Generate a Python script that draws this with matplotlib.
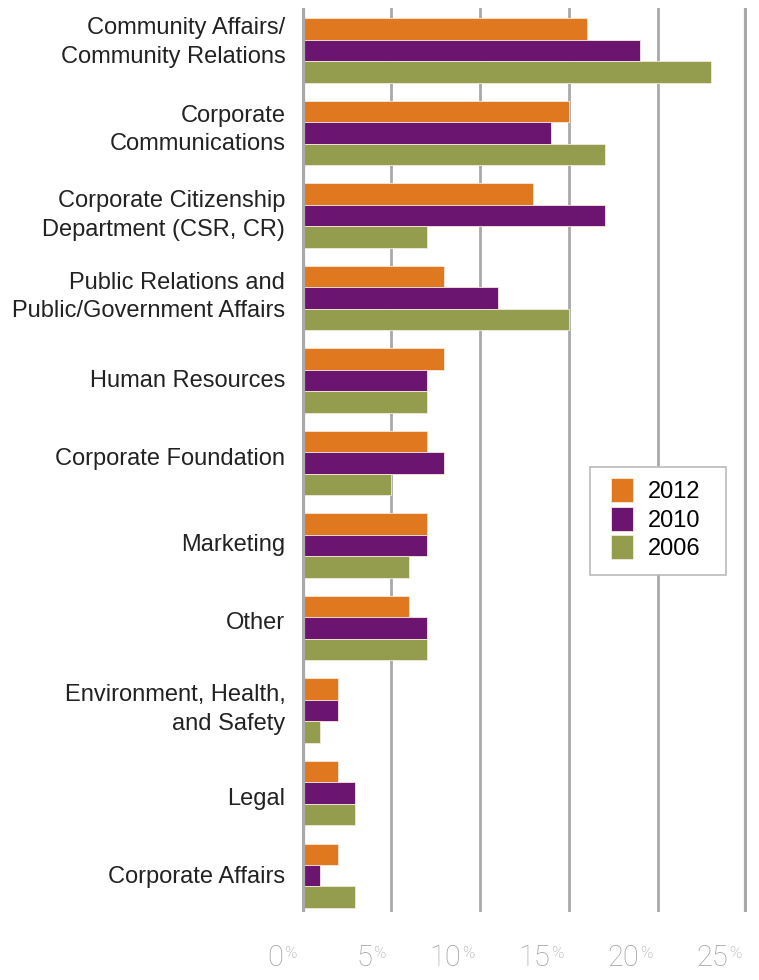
import matplotlib.pyplot as plt
from matplotlib.patches import Rectangle
from matplotlib.transforms import blended_transform_factory
import numpy as np

# Data (percent)
categories = [
    "Community Affairs/\nCommunity Relations",
    "Corporate\nCommunications",
    "Corporate Citizenship\nDepartment (CSR, CR)",
    "Public Relations and\nPublic/Government Affairs",
    "Human Resources",
    "Corporate Foundation",
    "Marketing",
    "Other",
    "Environment, Health,\nand Safety",
    "Legal",
    "Corporate Affairs",
]
vals_2012 = [16, 15, 13, 8, 8, 7, 7, 6, 2, 2, 2]
vals_2010 = [19, 14, 17, 11, 7, 8, 7, 7, 2, 3, 1]
vals_2006 = [23, 17, 7, 15, 7, 5, 6, 7, 1, 3, 3]
years = ["2012", "2010", "2006"]
colors = ["#E07820", "#6B1470", "#949C4E"]
ticks = [0, 5, 10, 15, 20, 25]

W, H = 759, 980
fig = plt.figure(figsize=(W / 100, H / 100), dpi=100)
ax = fig.add_axes([302 / W, 1 - 912 / H, 445 / W, 904 / H])

y = np.arange(len(categories))
h = 0.26
series = [vals_2012, vals_2010, vals_2006]
for k, (vals, col, lab) in enumerate(zip(series, colors, years)):
    ax.barh(y + (k - 1) * h, vals, height=h, color=col, label=lab,
            edgecolor="#f4e8dc", linewidth=0.6, zorder=3)

ax.set_xlim(0, 25)
ax.set_ylim(10.44, -0.515)

# grid lines
for t in ticks:
    lw = 4.5 if t in (0, 25) else 2
    ax.axvline(t, color="#a9a9ad", lw=lw, zorder=2 if t else 4)

for s in ax.spines.values():
    s.set_visible(False)
ax.set_xticks([])
ax.set_yticks([])

# category labels (small nudges to match the original placement)
nudge = [8, 3, 0, 1, 0, 4, 1, 5, 1, -6, -1]
for yi, c, n in zip(y, categories, nudge):
    ax.annotate(c, xy=(0, yi), xycoords="data", xytext=(-12, n * 0.72),
                textcoords="offset points", ha="right", va="center",
                fontsize=17, family="Liberation Sans", color="#222222",
                linespacing=1.4)

# x tick labels: number + small percent sign
trans = blended_transform_factory(ax.transData, fig.transFigure)
for t in ticks:
    ax.annotate("%", xy=(t, 1 - 953 / H), xycoords=trans, xytext=(-4, 0),
                textcoords="offset points", ha="right", va="center",
                fontsize=12, color="#a0a0a0", family="Roboto", fontweight="light")
    ax.annotate(str(t), xy=(t, 1 - 958 / H), xycoords=trans, xytext=(-13.5, 0),
                textcoords="offset points", ha="right", va="center",
                fontsize=21, color="#a0a0a0", family="Roboto", fontweight="light")

# legend: entries without frame, box drawn separately
leg = fig.legend(*ax.get_legend_handles_labels(), loc="upper left",
                 bbox_to_anchor=(611 / W, 1 - 478 / H), frameon=False,
                 handlelength=0.95, handleheight=1.2, borderpad=0, borderaxespad=0,
                 labelspacing=0.15, handletextpad=0.6,
                 prop={"family": "Liberation Sans", "size": 17})
fig.patches.append(Rectangle((590 / W, 1 - 575 / H), 136 / W, 108 / H,
                             transform=fig.transFigure, facecolor="white",
                             edgecolor="#bbbbbb", linewidth=1.2, zorder=4))

fig.savefig("out.png", dpi=100)
